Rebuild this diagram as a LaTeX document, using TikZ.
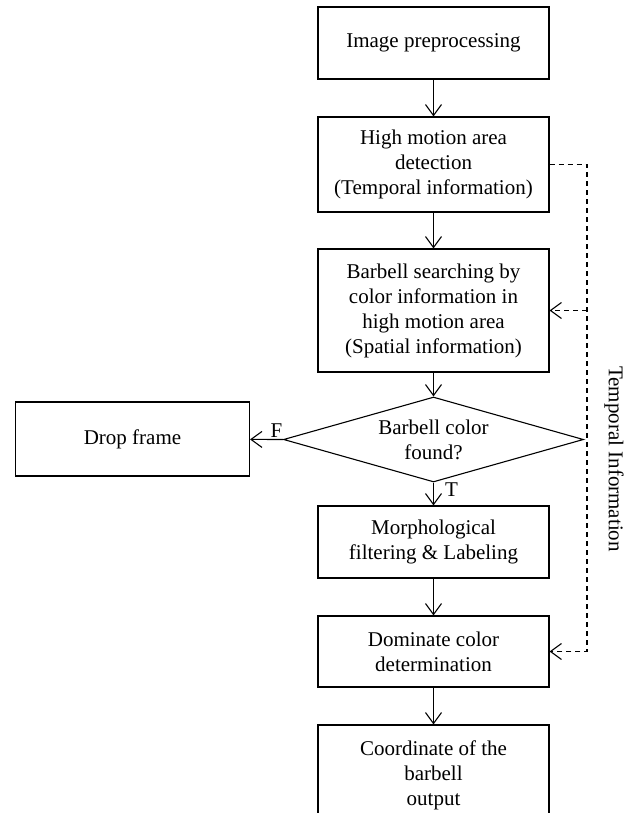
\documentclass[tikz,border=0pt]{standalone}
\usepackage{fontspec}
\setmainfont{Liberation Serif}
\usetikzlibrary{shapes.geometric,arrows.meta}

\begin{document}
\begin{tikzpicture}[x=1pt,y=-1pt,
  box/.style={draw,line width=1.1pt,minimum width=231pt,align=center,inner sep=2pt,
    font=\fontsize{21}{25}\selectfont},
  decision/.style={draw,diamond,aspect=3.5,line width=1.1pt,inner sep=0pt,
    minimum width=300pt,minimum height=85pt,align=center,font=\fontsize{21}{25}\selectfont},
  arr/.style={-{Straight Barb[length=11pt,width=16pt]},line width=1.1pt},
  fb/.style={arr,dash pattern=on 5pt off 4pt},
  lbl/.style={font=\fontsize{21}{25}\selectfont,inner sep=1pt}]

\useasboundingbox (0,0) rectangle (634,813);
\clip (0,0) rectangle (634,813);

% main column
\node[box,minimum height=72pt]  (pre)    at (433.5,43)    {Image preprocessing};
\node[box,minimum height=95pt]  (motion) at (433.5,164.5) {High motion area\\detection\\(Temporal information)};
\node[box,minimum height=123pt] (search) at (433.5,310.5) {Barbell searching by\\color information in\\high motion area\\(Spatial information)};
\node[decision]                 (found)  at (433.5,439.5) {Barbell color\\found?};
\node[box,minimum height=72pt]  (morph)  at (433.5,542)   {Morphological\\filtering \& Labeling};
\node[box,minimum height=71pt]  (dom)    at (433.5,651.5) {Dominate color\\determination};
\node[box,minimum height=100pt] (coord)  at (433.5,775)   {Coordinate of the\\barbell\\output};

% side branch
\node[box,minimum width=234pt,minimum height=74pt] (drop) at (132.5,439) {Drop frame};

\draw[arr] (pre) -- (motion);
\draw[arr] (motion) -- (search);
\draw[arr] (search) -- (found);
\draw[arr] (found.south) -- node[lbl,pos=0.33,right,xshift=10pt] {T} (morph);
\draw[arr] (found.west) -- node[lbl,pos=0.2,above] {F} (drop);
\draw[arr] (morph) -- (dom);
\draw[arr] (dom) -- (coord);

% temporal feedback
\coordinate (fb) at (587,164.5);
\draw[fb] (motion.east) -- (fb) |- (dom.east);
\draw[fb] (fb |- search.east) -- (search.east);
\node[lbl,rotate=-90] (tinfo) at (614,459) {Temporal Information};

\end{tikzpicture}
\end{document}
